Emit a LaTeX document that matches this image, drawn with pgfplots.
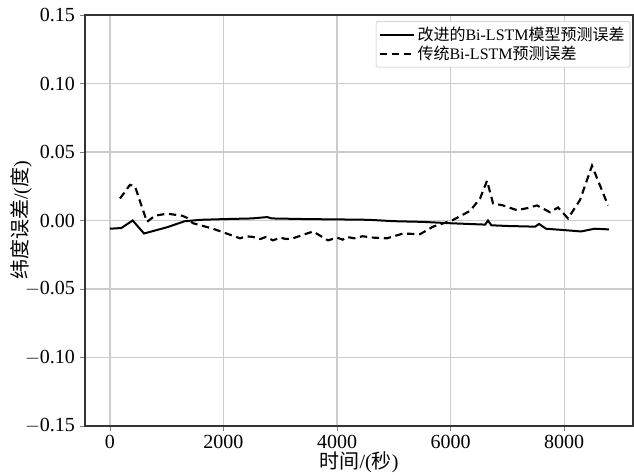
\documentclass[border=0pt]{standalone}
\usepackage{fontspec}
\setmainfont{Liberation Serif}
\newfontfamily\cjk{Noto Sans CJK SC}
\usepackage{pgfplots}
\pgfplotsset{compat=1.18}
\begin{document}
\begin{tikzpicture}
\begin{axis}[
  scale only axis,
  width=411pt, height=308.25pt,
  xmin=-440, xmax=9215,
  ymin=-0.15, ymax=0.15,
  xtick={0,2000,4000,6000,8000},
  ytick={-0.15,-0.10,-0.05,0,0.05,0.10,0.15},
  /pgf/number format/assume math mode=true,
  scaled x ticks=false, scaled y ticks=false,
  xticklabel style={/pgf/number format/1000 sep={}, font=\fontsize{15}{15}\selectfont, yshift=1pt},
  yticklabel style={font=\fontsize{15}{15}\selectfont},
  yticklabel={\ifdim\tick pt<0pt $-$\pgfmathparse{-\tick}\pgfmathprintnumber[fixed,fixed zerofill,precision=2,assume math mode=true]{\pgfmathresult}\else\pgfmathprintnumber[fixed,fixed zerofill,precision=2,assume math mode=true]{\tick}\fi},
  tick align=outside,
  xtick pos=bottom, ytick pos=left,
  major tick length=4pt,
  axis line style={line width=1.2pt, black!80},
  grid=major,
  grid style={gray!40, line width=0.8pt},
  xlabel={{\cjk 时间}/({\cjk 秒})},
  ylabel={{\cjk 纬度误差}/({\cjk 度})},
  xlabel style={font=\fontsize{15}{15}\selectfont, yshift=4.5pt},
  ylabel style={font=\fontsize{15}{15}\selectfont, yshift=-12pt},
  legend style={at={(0.995,0.985)}, anchor=north east, draw=gray!50, rounded corners=1pt, font=\fontsize{12}{14}\selectfont, row sep=-1pt, inner sep=2pt},
  legend cell align=left,
  legend image code/.code={\draw[#1, line width=1.5pt] (0cm,0cm) -- (0.9cm,0cm);},
]
\addplot[black, line width=1.5pt] coordinates {
(0,-0.006) (200,-0.0055) (400,0.0) (600,-0.0095) (1000,-0.005) (1320,-0.0005)
(1600,0.0005) (2000,0.001) (2500,0.0015) (2770,0.0025) (2850,0.0015) (3500,0.001)
(4000,0.0008) (4560,0.0005) (5000,-0.0005) (5500,-0.001) (6000,-0.002) (6300,-0.0025)
(6610,-0.003) (6660,0.0) (6720,-0.0035) (7000,-0.004) (7490,-0.0045) (7560,-0.0025)
(7680,-0.006) (8000,-0.007) (8300,-0.008) (8540,-0.006) (8790,-0.0065)
};
\addlegendentry{{\cjk 改进的}Bi-LSTM{\cjk 模型预测误差}}
\addplot[black, line width=1.6pt, dash pattern=on 5.5pt off 3.5pt] coordinates {
(176,0.016) (352,0.026) (440,0.025) (652,-0.001) (793,0.0035) (1004,0.005)
(1269,0.0035) (1357,0.002) (1463,-0.002) (1815,-0.006) (2291,-0.013) (2400,-0.0115)
(2520,-0.012) (2650,-0.0135) (2750,-0.012) (2872,-0.0145) (3000,-0.0125) (3100,-0.0135)
(3225,-0.013) (3577,-0.008) (3841,-0.0145) (4000,-0.0125) (4100,-0.014) (4176,-0.012)
(4300,-0.013) (4450,-0.0115) (4634,-0.0125) (4881,-0.013) (5163,-0.0095) (5463,-0.010)
(5692,-0.0045) (6026,0.0) (6344,0.007) (6520,0.016) (6643,0.029) (6749,0.0125)
(6925,0.011) (7172,0.0075) (7348,0.009) (7524,0.011) (7753,0.006) (7894,0.0095)
(8070,0.0015) (8282,0.015) (8493,0.040) (8775,0.011)
};
\addlegendentry{{\cjk 传统}Bi-LSTM{\cjk 预测误差}}
\end{axis}
\pgfresetboundingbox
\path[use as bounding box] ([xshift=-63.75pt,yshift=-36.75pt]current axis.south west) rectangle ([xshift=0.75pt,yshift=11.25pt]current axis.north east);
\end{tikzpicture}
\end{document}
